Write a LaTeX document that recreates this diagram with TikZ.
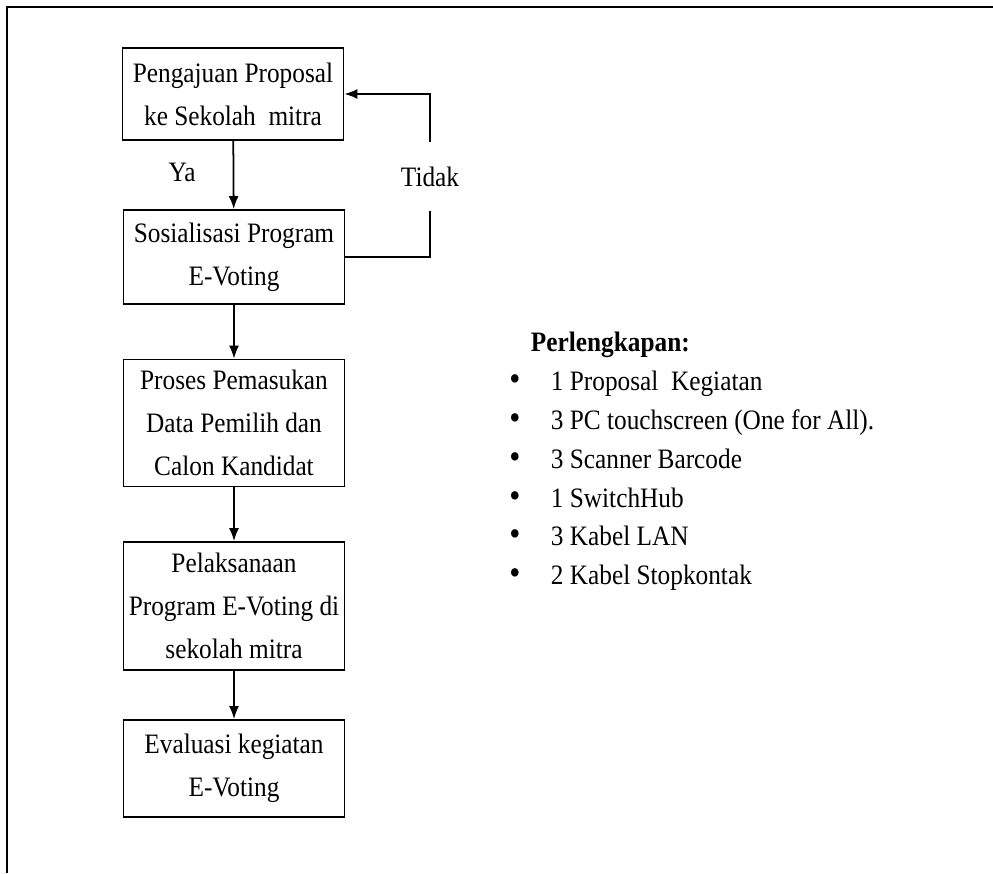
\documentclass[tikz,border=0pt]{standalone}
\usepackage{fontspec}
\setmainfont{Liberation Serif}[FakeStretch=0.9]
\usetikzlibrary{arrows.meta, positioning, calc}
\tikzstyle{proc} = [rectangle, draw, line width=1pt, minimum width=4.42cm, align=center, inner sep=2pt]
\tikzstyle{item} = [anchor=base west, inner sep=0pt]
\tikzstyle{flow} = [-{Latex[length=0.26cm, width=0.2cm]}]

\begin{document}
\begin{tikzpicture}[line width=1pt, font=\fontsize{16}{24.5}\selectfont]
    \useasboundingbox (0, 0) rectangle (19.86, 17.46);
    % frame
    \draw (0.14, 0) -- (0.14, 17.32) -- (19.86, 17.32);
    % flow
    \node[proc, minimum height=1.84cm] (B1) at (4.66, 15.58) {Pengajuan Proposal\\ke Sekolah\ \ mitra};
    \node[proc, minimum height=1.88cm] (B2) at (4.68, 12.32) {Sosialisasi Program\\E-Voting};
    \node[proc, minimum height=2.54cm] (B3) at (4.68, 9.00) {Proses Pemasukan\\Data Pemilih dan\\Calon Kandidat};
    \node[proc, minimum height=2.56cm] (B4) at (4.68, 5.34) {Pelaksanaan\\Program E-Voting di\\sekolah mitra};
    \node[proc, minimum height=1.94cm] (B5) at (4.68, 2.09) {Evaluasi kegiatan\\E-Voting};
    \node (Ya) at (3.64, 14.02) {Ya};
    \node[minimum height=1.34cm, inner sep=0pt] (Tidak) at (8.60, 13.93) {Tidak};
    \draw[flow] (B1) -- (B2);
    \draw[flow] (B2) -- (B3);
    \draw[flow] (B3) -- (B4);
    \draw[flow] (B4) -- (B5);
    \draw (B2.east) -| (Tidak.south);
    \draw[flow] (Tidak.north) |- (B1.east);
    % list
    \node[item] (title) at (10.6, 10.42) {\textbf{Perlengkapan:}};
    \foreach \txt [count=\i] in {1 Proposal\ \ Kegiatan, 3 PC touchscreen (One for All)., 3 Scanner Barcode, 1 SwitchHub, 3 Kabel LAN, 2 Kabel Stopkontak}{
      \node[anchor=base, inner sep=0pt] (dot\i) at (10.30, 10.42-0.776*\i) {\fontsize{20}{20}\selectfont\textbullet};
      \node[item] (it\i) at (11.0, 10.42-0.776*\i) {\txt};
    }
\end{tikzpicture}
\end{document}
